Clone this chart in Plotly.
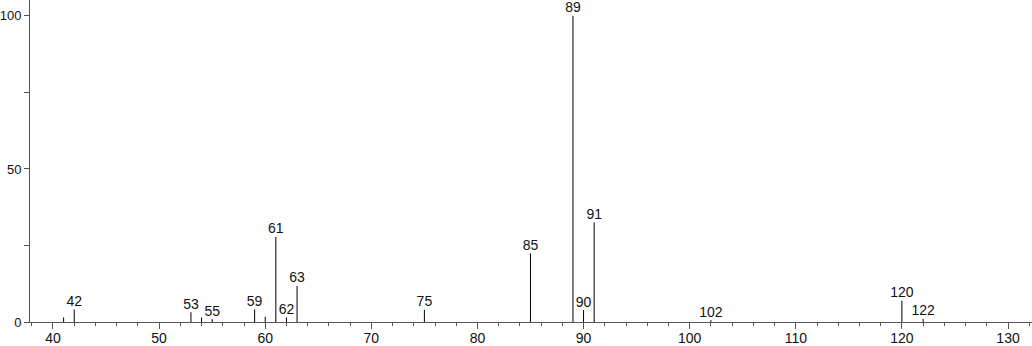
import plotly.graph_objects as go

# Mass spectrum data (m/z, relative intensity)
mz = [41, 42, 53, 54, 55, 59, 60, 61, 62, 63, 75, 85, 89, 90, 91, 102, 120, 122]
intensity = [1.5, 4.1, 3.2, 1.5, 0.9, 4.1, 1.7, 27.8, 1.5, 11.8, 4.0, 22.4, 100, 3.9, 32.6, 0.6, 7.0, 1.0]
labeled_mz = [42, 53, 55, 59, 61, 62, 63, 75, 85, 89, 90, 91, 102, 120, 122]

x_ticks = [40, 50, 60, 70, 80, 90, 100, 110, 120, 130]
y_ticks = [0, 50, 100]

# stems
sx, sy = [], []
for m, h in zip(mz, intensity):
    sx += [m, m, None]
    sy += [0, h, None]

lab_x = [m for m in labeled_mz]
lab_y = [intensity[mz.index(m)] for m in labeled_mz]
lab_t = [str(m) for m in labeled_mz]

fig = go.Figure()
fig.add_trace(go.Scatter(x=sx, y=sy, mode="lines",
                         line=dict(color="#000000", width=1),
                         hoverinfo="skip", showlegend=False))
fig.add_trace(go.Scatter(x=lab_x, y=lab_y, mode="text", text=lab_t,
                         textposition="top center",
                         textfont=dict(family="Liberation Sans, Arial", size=14, color="#111111"),
                         showlegend=False, cliponaxis=False))

fig.update_layout(
    template="none",
    width=1032, height=346,
    margin=dict(l=30, r=0, t=0, b=24, autoexpand=False),
    paper_bgcolor="white", plot_bgcolor="white",
    font=dict(family="Liberation Sans, Arial", size=14, color="#111111"),
    xaxis=dict(range=[37.833, 132.26], tickmode="array", tickvals=x_ticks,
               ticktext=[str(v) for v in x_ticks], automargin=False,
               ticks="outside", ticklen=6, tickcolor="#555555", tickwidth=1,
               ticklabelstandoff=-3,
               showline=True, linecolor="#555555", linewidth=1,
               showgrid=False, zeroline=False,
               minor=dict(dtick=2, tick0=0, ticks="outside", ticklen=3,
                          tickcolor="#555555", showgrid=False)),
    yaxis=dict(range=[0, 105.2], tickmode="array", tickvals=y_ticks,
               ticktext=[str(v) for v in y_ticks], automargin=False,
               tickfont=dict(size=13),
               ticks="outside", ticklen=5, tickcolor="#555555", tickwidth=1,
               showline=True, linecolor="#555555", linewidth=1,
               showgrid=False, zeroline=False,
               minor=dict(dtick=25, tick0=0, ticks="outside", ticklen=5,
                          tickcolor="#555555", showgrid=False)),
)

fig.write_html("out.html")
